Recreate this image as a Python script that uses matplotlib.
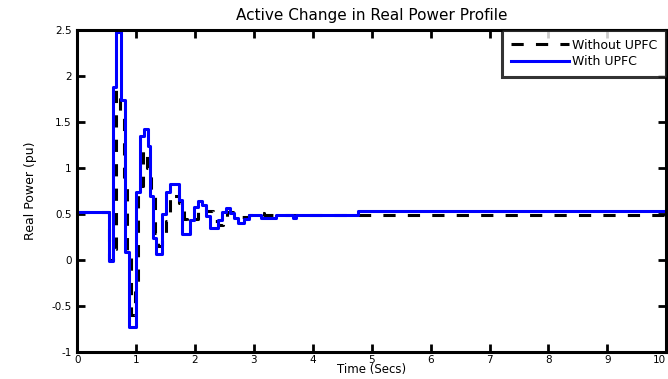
import numpy as np
import matplotlib
matplotlib.use("Agg")
import matplotlib.pyplot as plt

# step points (time in secs, power in pu)
t_with = [0.00, 0.545, 0.613, 0.664, 0.750, 0.818, 0.886, 1.005, 1.073, 1.141,
          1.209, 1.244, 1.295, 1.346, 1.448, 1.516, 1.584, 1.721, 1.772, 1.908,
          1.976, 2.044, 2.112, 2.181, 2.249, 2.385, 2.453, 2.521, 2.589, 2.658,
          2.726, 2.828, 2.913, 3.118, 3.373, 3.663, 3.714, 4.770, 10.0]
p_with = [0.52, -0.01, 1.88, 2.48, 1.74, 0.09, -0.73, 0.74, 1.35, 1.42,
          1.24, 0.70, 0.24, 0.07, 0.50, 0.74, 0.83, 0.65, 0.28, 0.43,
          0.58, 0.64, 0.60, 0.48, 0.35, 0.43, 0.52, 0.57, 0.51, 0.46,
          0.40, 0.45, 0.49, 0.46, 0.49, 0.46, 0.49, 0.53, 0.53]

t_without = [0.00, 0.545, 0.613, 0.664, 0.733, 0.801, 0.852, 0.920, 0.988, 1.039,
             1.124, 1.193, 1.261, 1.329, 1.380, 1.448, 1.516, 1.584, 1.652, 1.721,
             1.806, 1.857, 1.976, 2.044, 2.112, 2.181, 2.300, 2.385, 2.470, 2.538,
             2.640, 2.913, 3.118, 3.169, 10.0]
p_without = [0.52, 0.00, 0.12, 1.85, 1.55, 0.90, 0.10, -0.60, -0.35, 0.80,
             1.20, 1.00, 0.70, 0.29, 0.15, 0.25, 0.42, 0.72, 0.70, 0.62,
             0.45, 0.40, 0.45, 0.55, 0.58, 0.53, 0.42, 0.38, 0.45, 0.52,
             0.47, 0.49, 0.51, 0.49, 0.49]

x_ticks = np.arange(0, 11, 1)
y_ticks = [-1, -0.5, 0, 0.5, 1, 1.5, 2, 2.5]
y_labels = ['-1', '-0.5', '0', '0.5', '1', '1.5', '2', '2.5']

fig = plt.figure(figsize=(6.68, 3.79), dpi=100)
ax = fig.add_axes([0.1155, 0.0712, 0.882, 0.8497])

ax.plot(t_without, p_without, drawstyle='steps-post', color='black',
        linestyle=(0, (4, 4)), linewidth=2.2, label='Without UPFC')
ax.plot(t_with, p_with, drawstyle='steps-post', color='#0000ff',
        linewidth=2.2, label='With UPFC')

ax.set_xlim(0, 10)
ax.set_ylim(-1, 2.5)
ax.set_xticks(x_ticks)
ax.set_yticks(y_ticks)
ax.set_yticklabels(y_labels)
ax.get_xticklabels()[-1].set_horizontalalignment('right')

for s in ax.spines.values():
    s.set_linewidth(2.2)
ax.tick_params(direction='in', length=6, width=2, labelsize=7.5,
               top=True, right=True, pad=4)
ax.tick_params(axis='x', pad=2)

ax.set_title('Active Change in Real Power Profile', fontsize=11, pad=7)
ax.set_xlabel('Time (Secs)', fontsize=8.5, labelpad=-1)
ax.set_ylabel('Real Power (pu)', fontsize=9, labelpad=10)

leg = ax.legend(loc='upper right', fontsize=9, frameon=True, fancybox=False,
                borderaxespad=0, handlelength=4.6, handletextpad=0.3,
                borderpad=0.7, labelspacing=0.3)
leg.get_frame().set_edgecolor('black')
leg.get_frame().set_linewidth(2.2)

fig.savefig('out.png', dpi=100)
